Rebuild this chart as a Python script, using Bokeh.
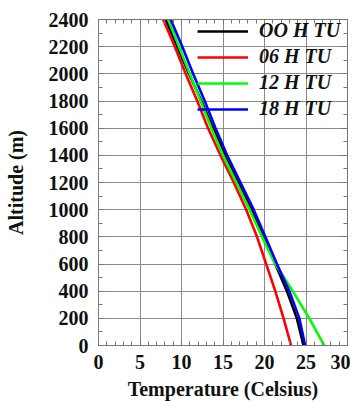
from bokeh.plotting import figure
from bokeh.models import (SingleIntervalTicker, LinearAxis, Range1d, Legend, LegendItem,
                          CustomJSTickFormatter)
from bokeh.embed import file_html
from bokeh.resources import INLINE

altitude = [0, 200, 400, 600, 800, 1000, 1200, 1400, 1600, 1800, 2000, 2200, 2400]
t00 = [24.7, 23.9, 22.7, 21.3, 19.9, 18.5, 16.9, 15.3, 13.8, 12.4, 10.9, 9.5, 8.1]
t06 = [23.2, 22.3, 21.3, 20.2, 19.1, 17.8, 16.3, 14.7, 13.2, 11.9, 10.5, 9.2, 7.8]
t12 = [27.2, 25.4, 23.4, 21.3, 19.7, 18.2, 16.6, 15.0, 13.6, 12.3, 11.0, 9.7, 8.4]
t18 = [24.9, 24.2, 23.0, 21.5, 20.1, 18.7, 17.1, 15.5, 14.1, 12.8, 11.4, 10.1, 8.7]
series_labels = ["OO H TU", "06 H TU", "12 H TU", "18 H TU"]
series_colors = ["#000000", "#ff0000", "#00ff00", "#0000ff"]

FONT = "Liberation Serif"
FS = "20px"

p = figure(frame_width=249, frame_height=326, output_backend="svg", toolbar_location=None,
           x_range=Range1d(0, 30), y_range=Range1d(0, 2400),
           min_border_left=98, min_border_top=19, min_border_right=3, min_border_bottom=0)
p.outline_line_color = "#777777"
p.background_fill_color = "white"

xt = SingleIntervalTicker(interval=5, num_minor_ticks=5)
yt = SingleIntervalTicker(interval=200, num_minor_ticks=2)
p.xaxis.ticker = xt
p.yaxis.ticker = yt
p.xgrid.ticker = xt
p.ygrid.ticker = yt
p.grid.grid_line_color = "#8a8a8a"
p.grid.grid_line_width = 1

for ax in [p.xaxis[0], p.yaxis[0]]:
    ax.major_label_text_font = FONT
    ax.major_label_text_font_style = "bold"
    ax.major_label_text_font_size = FS
    ax.major_label_text_color = "#111111"
    ax.axis_label_text_font = FONT
    ax.axis_label_text_font_style = "bold"
    ax.axis_label_text_font_size = FS
    ax.axis_label_text_color = "#111111"
    ax.major_tick_in = 6
    ax.major_tick_out = 0
    ax.minor_tick_in = 4
    ax.minor_tick_out = 0
    ax.axis_line_color = "#777777"
    ax.major_tick_line_color = "#777777"
    ax.minor_tick_line_color = "#777777"

p.xaxis.axis_label = "Temperature (Celsius)"
p.yaxis.axis_label = "Altitude (m)"
p.xaxis.major_label_standoff = 9
p.yaxis.major_label_standoff = 10
p.xaxis.axis_label_standoff = 6
p.yaxis.axis_label_standoff = 19

blank = CustomJSTickFormatter(code="return '';")
for loc, tk in [("above", xt), ("right", yt)]:
    ax = LinearAxis(ticker=tk, formatter=blank, major_tick_in=6, major_tick_out=0,
                    minor_tick_in=4, minor_tick_out=0, axis_line_color="#777777",
                    major_tick_line_color="#777777", minor_tick_line_color="#777777",
                    major_label_standoff=0)
    p.add_layout(ax, loc)

items = []
for temps, lab, col in zip([t00, t06, t12, t18], series_labels, series_colors):
    r = p.line(temps, altitude, line_color=col, line_width=2.6)
    items.append(LegendItem(label=lab, renderers=[r]))

legend = Legend(items=items, location="top_right")
legend.background_fill_alpha = 0
legend.border_line_alpha = 0
legend.padding = 0
legend.margin = 0
legend.spacing = 3
legend.glyph_height = 20
legend.glyph_width = 51
legend.label_standoff = 11
legend.label_width = 88
legend.label_text_font = FONT
legend.label_text_font_style = "bold italic"
legend.label_text_font_size = FS
legend.label_text_color = "#111111"
p.add_layout(legend, "center")

open("out.html", "w").write(file_html(p, INLINE))
